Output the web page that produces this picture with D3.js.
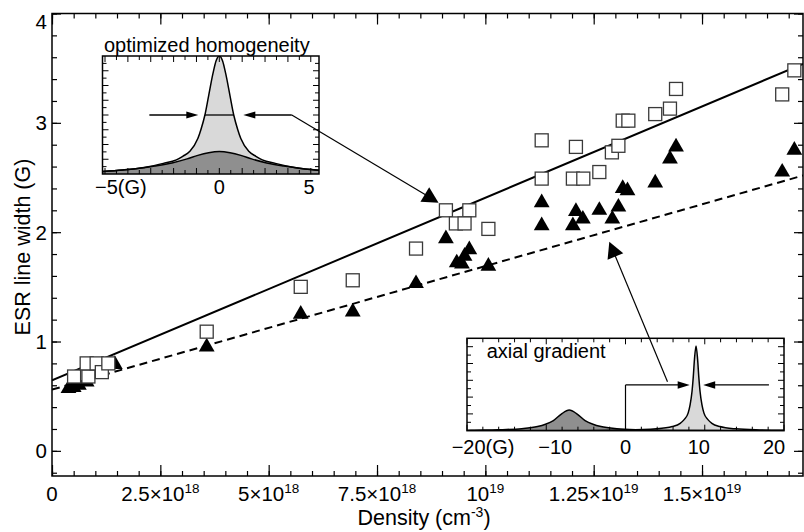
<!DOCTYPE html>
<html>
<head>
<meta charset="utf-8">
<script src="https://cdn.jsdelivr.net/npm/d3@7"></script>
<style>
  body { margin: 0; background: #fff; }
  text { font-family: "Liberation Sans", Arial, Helvetica, sans-serif; fill: #000; }
</style>
</head>
<body>
<svg id="chart" width="804" height="532"></svg>
<script>
// ---- Main data: ESR line width vs density ----
// open squares
const squareDensity = [0.51e18, 0.84e18, 0.80e18, 1.03e18, 1.15e18, 1.30e18, 3.57e18, 5.74e18, 6.94e18, 8.40e18,
  9.09e18, 9.63e18, 9.32e18, 9.52e18, 10.07e18, 11.30e18, 11.30e18, 12.02e18, 12.26e18, 12.63e18,
  12.09e18, 12.92e18, 13.07e18, 13.17e18, 13.30e18, 13.92e18, 14.26e18, 14.40e18, 16.85e18, 17.13e18];
const squareWidth = [0.68, 0.68, 0.80, 0.80, 0.72, 0.80, 1.09, 1.50, 1.56, 1.85,
  2.20, 2.20, 2.08, 2.08, 2.03, 2.84, 2.49, 2.49, 2.49, 2.55,
  2.78, 2.73, 2.79, 3.02, 3.02, 3.08, 3.13, 3.31, 3.26, 3.48];

// filled triangles
const triangleDensity = [0.38e18, 0.50e18, 0.62e18, 0.80e18, 1.11e18, 1.45e18, 3.57e18, 5.74e18, 6.94e18, 8.40e18,
  9.09e18, 9.63e18, 9.52e18, 9.34e18, 9.46e18, 10.07e18, 11.30e18, 11.30e18, 12.02e18, 12.09e18,
  12.25e18, 12.63e18, 12.93e18, 13.07e18, 13.17e18, 13.28e18, 13.92e18, 14.26e18, 14.40e18, 16.85e18, 17.13e18];
const triangleWidth = [0.57, 0.58, 0.60, 0.63, 0.71, 0.79, 0.95, 1.25, 1.27, 1.53,
  1.94, 1.84, 1.78, 1.72, 1.71, 1.69, 2.27, 2.06, 2.06, 2.19,
  2.12, 2.20, 2.12, 2.23, 2.40, 2.38, 2.45, 2.67, 2.78, 2.55, 2.75];

// linear fits: [density, width] end points
const fitSolid  = [[0, 0.645], [1.733e19, 3.539]];
const fitDashed = [[0, 0.560], [1.733e19, 2.518]];

// axis ticks
const xTickValues   = [0, 2.5e18, 5e18, 7.5e18, 1e19, 1.25e19, 1.5e19];
const xTickMantissa = ["0", "2.5×10", "5×10", "7.5×10", "10", "1.25×10", "1.5×10"];
const xTickExponent = ["", "18", "18", "18", "19", "19", "19"];
const yTickValues   = [0, 1, 2, 3, 4];
const yTickLabels   = ["0", "1", "2", "3", "4"];

// ---- Inset spectra: [field (G), amplitude] ----
const homogNarrow = [[-5.11, 0.022], [-4.23, 0.034], [-3.29, 0.055], [-2.45, 0.09], [-1.88, 0.12], [-1.6, 0.15],
  [-1.3, 0.19], [-0.94, 0.30], [-0.8, 0.38], [-0.63, 0.50], [-0.47, 0.66], [-0.28, 0.85], [-0.14, 0.96], [0, 1.0],
  [0.14, 0.96], [0.28, 0.85], [0.47, 0.66], [0.63, 0.50], [0.8, 0.38], [0.94, 0.30], [1.3, 0.19], [1.6, 0.15],
  [1.88, 0.12], [2.45, 0.09], [3.29, 0.055], [4.36, 0.031]];
const homogWide = [[-5.11, 0.022], [-4.23, 0.034], [-3.76, 0.043], [-2.82, 0.068], [-2.07, 0.094], [-1.41, 0.128],
  [-0.94, 0.158], [-0.47, 0.180], [0, 0.19], [0.47, 0.180], [0.94, 0.158], [1.41, 0.128], [2.07, 0.094],
  [2.82, 0.068], [3.76, 0.043], [4.36, 0.031]];
const axialNarrow = [[-20, 0.001], [-5, 0.003], [0, 0.007], [3.9, 0.02], [5.9, 0.045], [6.9, 0.08], [7.4, 0.12],
  [7.9, 0.19], [8.15, 0.28], [8.4, 0.43], [8.55, 0.58], [8.7, 0.77], [8.9, 0.917], [9.1, 0.77], [9.25, 0.58],
  [9.4, 0.43], [9.65, 0.28], [9.9, 0.19], [10.4, 0.12], [10.9, 0.08], [11.9, 0.045], [13.9, 0.02],
  [16.9, 0.008], [20, 0.004]];
const axialWide = [[-20, 0.003], [-19.1, 0.005], [-16.1, 0.01], [-13.1, 0.022], [-11.1, 0.045], [-10.1, 0.07],
  [-9.1, 0.11], [-8.1, 0.18], [-7.1, 0.224], [-6.1, 0.18], [-5.1, 0.11], [-4.1, 0.07], [-3.1, 0.045],
  [-1.1, 0.022], [1.9, 0.01], [4.9, 0.005], [20, 0.001]];
const homogTickLabels = [[-5, "−5(G)"], [0, "0"], [5, "5"]];
const axialTickLabels = [[-20, "−20(G)"], [-10, "−10"], [0, "0"], [10, "10"], [20, "20"]];

// ---- Layout ----
const W = 804, H = 532;
const plot = { left: 52, right: 803, top: 13.5, bottom: 476 };
const svg = d3.select("#chart");
svg.append("rect").attr("width", W).attr("height", H).attr("fill", "#fff");

const x = d3.scaleLinear().domain([0, 1.733e19]).range([plot.left, plot.right]);
const y = d3.scaleLinear().domain([-0.23, 4]).range([plot.bottom, plot.top]);

svg.append("defs").append("clipPath").attr("id", "plotClip")
  .append("rect").attr("x", plot.left).attr("y", plot.top)
  .attr("width", plot.right - plot.left).attr("height", plot.bottom - plot.top);

// ---- Axes (ticks pointing inward on all four sides) ----
const xMinor = d3.range(0, 35).map(i => i * 5e17).filter(v => v <= 1.733e19);
const yMinor = d3.range(-1, 21).map(i => i * 0.2).filter(v => v >= -0.23 && v <= 4.0001);

function ticks(axisGen, tr, values, size) {
  const g = svg.append("g").attr("transform", tr)
    .call(axisGen.tickValues(values).tickSize(-size).tickFormat(""));
  g.select(".domain").remove();
  g.selectAll("line").attr("stroke", "#000").attr("stroke-width", 1.2);
  return g;
}
ticks(d3.axisBottom(x), `translate(0,${plot.bottom})`, xMinor, 5);
ticks(d3.axisBottom(x), `translate(0,${plot.bottom})`, xTickValues, 11);
ticks(d3.axisTop(x), `translate(0,${plot.top})`, xMinor, 5);
ticks(d3.axisTop(x), `translate(0,${plot.top})`, xTickValues, 11);
ticks(d3.axisLeft(y), `translate(${plot.left},0)`, yMinor, 5);
ticks(d3.axisLeft(y), `translate(${plot.left},0)`, yTickValues, 9);
ticks(d3.axisRight(y), `translate(${plot.right},0)`, yMinor, 5);
ticks(d3.axisRight(y), `translate(${plot.right},0)`, yTickValues, 9);

// x tick labels with powers of ten
xTickValues.forEach((v, i) => {
  const t = svg.append("text").attr("x", x(v)).attr("y", 501)
    .attr("text-anchor", "middle").attr("font-size", 20.5);
  t.append("tspan").text(xTickMantissa[i]);
  if (xTickExponent[i]) {
    t.append("tspan").attr("font-size", 13.5).attr("dy", -8).text(xTickExponent[i]);
  }
});
// y tick labels; the top one is kept inside the frame
yTickValues.forEach((v, i) => {
  const yy = Math.max(y(v), plot.top + 8.5);
  svg.append("text").attr("x", 47).attr("y", yy).attr("dy", "0.36em")
    .attr("text-anchor", "end").attr("font-size", 20.5).text(yTickLabels[i]);
});

// axis titles
const xt = svg.append("text").attr("x", 424).attr("y", 525)
  .attr("text-anchor", "middle").attr("font-size", 21.5);
xt.append("tspan").text("Density (cm");
xt.append("tspan").attr("font-size", 14).attr("dy", -8).text("-3");
xt.append("tspan").attr("dy", 8).text(")");
svg.append("text").attr("transform", "translate(30,247) rotate(-90)")
  .attr("text-anchor", "middle").attr("font-size", 21.5).text("ESR line width (G)");

// ---- Fits and markers ----
const plotG = svg.append("g").attr("clip-path", "url(#plotClip)");
const line = d3.line().x(d => x(d[0])).y(d => y(d[1]));
plotG.append("path").attr("d", line(fitSolid)).attr("fill", "none")
  .attr("stroke", "#000").attr("stroke-width", 2);
plotG.append("path").attr("d", line(fitDashed)).attr("fill", "none")
  .attr("stroke", "#000").attr("stroke-width", 2).attr("stroke-dasharray", "8,5");

const tri = d3.symbol().type(d3.symbolTriangle).size(108);
plotG.selectAll("path.tri").data(triangleDensity).join("path").attr("class", "tri")
  .attr("d", tri).attr("fill", "#000")
  .attr("transform", (d, i) => `translate(${x(d)},${y(triangleWidth[i])})`);
const sq = 13;
plotG.selectAll("rect.sq").data(squareDensity).join("rect").attr("class", "sq")
  .attr("x", d => x(d) - sq / 2).attr("y", (d, i) => y(squareWidth[i]) - sq / 2)
  .attr("width", sq).attr("height", sq)
  .attr("fill", "#fff").attr("stroke", "#3a3a3a").attr("stroke-width", 1.3);

svg.append("rect").attr("x", plot.left).attr("y", plot.top)
  .attr("width", plot.right - plot.left).attr("height", plot.bottom - plot.top)
  .attr("fill", "none").attr("stroke", "#000").attr("stroke-width", 1.5);

// ---- helpers ----
function arrowHead(g, x0, y0, x1, y1, len, half) {
  const dx = x1 - x0, dy = y1 - y0, L = Math.hypot(dx, dy);
  const ux = dx / L, uy = dy / L, bx = x1 - ux * len, by = y1 - uy * len;
  g.append("path").attr("fill", "#000")
    .attr("d", `M${x1},${y1}L${bx - uy * half},${by + ux * half}L${bx + uy * half},${by - ux * half}Z`);
}
function arrow(g, x0, y0, x1, y1, len, half, w) {
  const L = Math.hypot(x1 - x0, y1 - y0);
  const ex = x1 - (x1 - x0) / L * len * 0.8, ey = y1 - (y1 - y0) / L * len * 0.8;
  g.append("line").attr("x1", x0).attr("y1", y0).attr("x2", ex).attr("y2", ey)
    .attr("stroke", "#000").attr("stroke-width", w);
  arrowHead(g, x0, y0, x1, y1, len, half);
}

function inset(cfg) {
  const g = svg.append("g");
  const ix = d3.scaleLinear().domain(cfg.xDomain).range([cfg.left, cfg.right]);
  const iy = d3.scaleLinear().domain([0, 1]).range([cfg.bottom, cfg.top]);
  g.append("rect").attr("x", cfg.left).attr("y", cfg.top)
    .attr("width", cfg.right - cfg.left).attr("height", cfg.bottom - cfg.top).attr("fill", "#fff");
  const clipId = cfg.id + "Clip";
  g.append("clipPath").attr("id", clipId).append("rect")
    .attr("x", cfg.left).attr("y", cfg.top)
    .attr("width", cfg.right - cfg.left).attr("height", cfg.bottom - cfg.top);
  const cg = g.append("g").attr("clip-path", `url(#${clipId})`);
  const area = d3.area().x(d => ix(d[0])).y0(iy(0)).y1(d => iy(d[1])).curve(d3.curveMonotoneX);
  const ln = d3.line().x(d => ix(d[0])).y(d => iy(d[1])).curve(d3.curveMonotoneX);
  cg.append("path").attr("d", area(cfg.light)).attr("fill", "#d9d9d9");
  cg.append("path").attr("d", area(cfg.dark)).attr("fill", "#8f8f8f");
  cg.append("path").attr("d", ln(cfg.light)).attr("fill", "none").attr("stroke", "#000").attr("stroke-width", 1.5);
  cg.append("path").attr("d", ln(cfg.dark)).attr("fill", "none").attr("stroke", "#000").attr("stroke-width", 1.5);

  // inward ticks
  const xs = [];
  for (let v = Math.ceil(cfg.xDomain[0] / cfg.xStep) * cfg.xStep; v <= cfg.xDomain[1] + 1e-9; v += cfg.xStep) xs.push(+v.toFixed(4));
  xs.forEach(v => {
    const big = Math.abs(v / cfg.xMajor - Math.round(v / cfg.xMajor)) < 1e-6;
    const l = big ? 6 : 4;
    g.append("line").attr("x1", ix(v)).attr("x2", ix(v)).attr("y1", cfg.bottom).attr("y2", cfg.bottom - l)
      .attr("stroke", "#000").attr("stroke-width", 1);
    g.append("line").attr("x1", ix(v)).attr("x2", ix(v)).attr("y1", cfg.top).attr("y2", cfg.top + l)
      .attr("stroke", "#000").attr("stroke-width", 1);
  });
  for (let k = 1; k < cfg.yCount; k++) {
    const yy = cfg.bottom - (cfg.bottom - cfg.top) * k / cfg.yCount;
    const l = k % 2 === 0 ? 6 : 4;
    g.append("line").attr("x1", cfg.left).attr("x2", cfg.left + l).attr("y1", yy).attr("y2", yy)
      .attr("stroke", "#000").attr("stroke-width", 1);
    g.append("line").attr("x1", cfg.right).attr("x2", cfg.right - l).attr("y1", yy).attr("y2", yy)
      .attr("stroke", "#000").attr("stroke-width", 1);
  }
  g.append("rect").attr("x", cfg.left).attr("y", cfg.top)
    .attr("width", cfg.right - cfg.left).attr("height", cfg.bottom - cfg.top)
    .attr("fill", "none").attr("stroke", "#000").attr("stroke-width", 1.5);
  cfg.labels.forEach(([v, s], i) => {
    const t = g.append("text").attr("y", cfg.labelY).attr("font-size", 20);
    const nudge = cfg.labelNudge ? cfg.labelNudge[i] : 0;
    if (s.endsWith("(G)")) {
      t.attr("x", ix(v) + nudge).attr("text-anchor", "start").text(s);
    } else {
      // end labels are kept inside the frame
      t.attr("x", Math.min(ix(v) + nudge, cfg.right - 10)).attr("text-anchor", "middle").text(s);
    }
  });
  return { g, ix, iy };
}

// inset: optimized homogeneity
const hom = inset({ id: "hom", left: 102.5, right: 319, top: 56, bottom: 174,
  xDomain: [-5.11, 4.36], xStep: 0.5, xMajor: 1, yCount: 16,
  light: homogNarrow, dark: homogWide, labels: homogTickLabels, labelNudge: [-10, 0, 0], labelY: 194 });
svg.append("text").attr("x", 104).attr("y", 51.5).attr("font-size", 20).text("optimized homogeneity");
// FWHM marker
hom.g.append("line").attr("x1", hom.ix(-0.63)).attr("x2", hom.ix(0.63))
  .attr("y1", hom.iy(0.5)).attr("y2", hom.iy(0.5)).attr("stroke", "#000").attr("stroke-width", 1.3);
arrow(hom.g, hom.ix(-3.06), hom.iy(0.5), hom.ix(-0.92), hom.iy(0.5), 12, 3.5, 1.3);
arrow(hom.g, hom.ix(3.17), hom.iy(0.5), hom.ix(1.05), hom.iy(0.5), 12, 3.5, 1.3);
arrow(svg, hom.ix(3.17), hom.iy(0.5), x(8.92e18), y(2.27), 16, 8.5, 1.2);

// inset: axial gradient
const ax = inset({ id: "ax", left: 467, right: 784, top: 338.3, bottom: 430.7,
  xDomain: [-20, 20], xStep: 2, xMajor: 10, yCount: 11,
  light: axialNarrow, dark: axialWide, labels: axialTickLabels, labelNudge: [-15.3, 9, 0, -6, 0], labelY: 454 });
ax.g.append("text").attr("x", 486.7).attr("y", 358.3).attr("font-size", 20).text("axial gradient");
ax.g.append("line").attr("x1", ax.ix(0)).attr("x2", ax.ix(0))
  .attr("y1", ax.iy(0.495)).attr("y2", ax.iy(0)).attr("stroke", "#000").attr("stroke-width", 1.2);
arrow(ax.g, ax.ix(0), ax.iy(0.495), ax.ix(8.1), ax.iy(0.495), 12, 3.8, 1.3);
arrow(ax.g, ax.ix(18.1), ax.iy(0.495), ax.ix(9.8), ax.iy(0.495), 12, 3.8, 1.3);
arrow(svg, ax.ix(5.3), ax.iy(0.53), x(12.86e18), y(1.913), 16, 8.5, 1.2);
</script>
</body>
</html>
